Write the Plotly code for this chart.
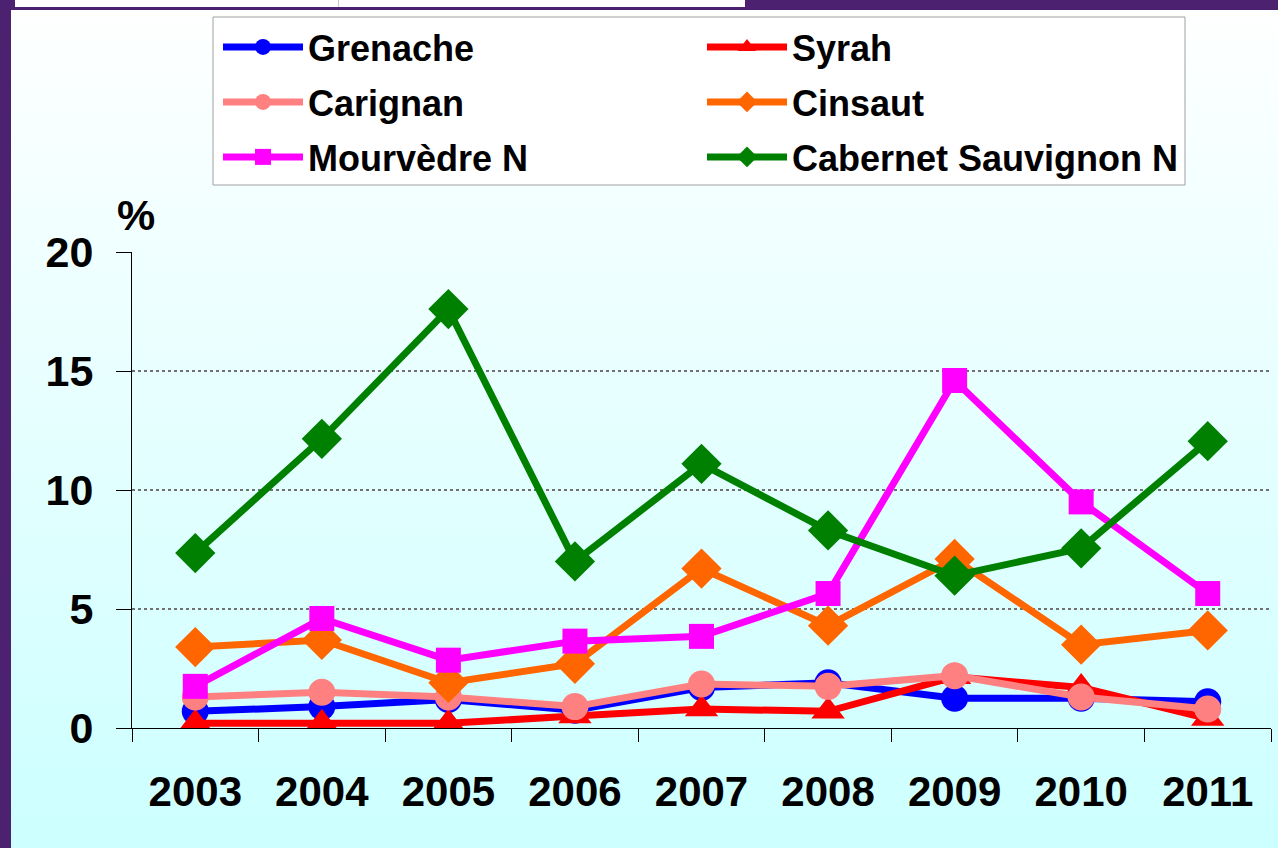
import base64
import plotly.graph_objects as go

years = ["2003", "2004", "2005", "2006", "2007", "2008", "2009", "2010", "2011"]

grenache = [0.7, 0.9, 1.2, 0.75, 1.7, 1.9, 1.25, 1.25, 1.1]
syrah = [0.2, 0.2, 0.2, 0.5, 0.8, 0.7, 2.15, 1.7, 0.4]
carignan = [1.3, 1.5, 1.3, 0.9, 1.85, 1.75, 2.2, 1.3, 0.8]
cinsaut = [3.4, 3.7, 1.9, 2.7, 6.7, 4.3, 7.1, 3.5, 4.1]
mourvedre = [1.75, 4.6, 2.85, 3.65, 3.85, 5.65, 14.6, 9.5, 5.65]
cabernet = [7.35, 12.15, 17.6, 7.0, 11.1, 8.3, 6.4, 7.55, 12.05]

# name, values, colour, marker, marker size, legend row
series = [
    ("Grenache", grenache, "#0000FF", "circle", 27, "legend"),
    ("Syrah", syrah, "#FF0000", "triangle-up", 29, "legend"),
    ("Carignan", carignan, "#FF8080", "circle", 27, "legend2"),
    ("Cinsaut", cinsaut, "#FF6600", "diamond", 31, "legend2"),
    ("Mourvèdre N", mourvedre, "#FF00FF", "square", 25, "legend3"),
    ("Cabernet Sauvignon N", cabernet, "#008000", "diamond", 31, "legend3"),
]

W, H = 1278, 848
L, R, T, B = 132, 7, 252, 120
pw, ph = W - L - R, H - T - B


def px_x(p):
    return (p - L) / pw


def px_y(p):
    return (H - B - p) / ph


# slide background: gradient + purple frame
svg = f"""<svg xmlns='http://www.w3.org/2000/svg' width='{W}' height='{H}' preserveAspectRatio='none'>
<defs><linearGradient id='g' x1='0' y1='0' x2='0' y2='1'>
<stop offset='0' stop-color='#FFFFFF'/><stop offset='1' stop-color='#CCFFFF'/></linearGradient></defs>
<rect width='{W}' height='{H}' fill='url(#g)'/>
<rect x='0' y='0' width='{W}' height='10' fill='#4B2170'/>
<rect x='0' y='0' width='11' height='{H}' fill='#4B2170'/>
<rect x='15' y='0' width='730' height='7' fill='#FFFFFF'/>
<rect x='338' y='0' width='1' height='7' fill='#C8C8C8'/>
</svg>"""
bg_src = "data:image/svg+xml;base64," + base64.b64encode(svg.encode()).decode()

font = dict(family="Liberation Sans, Arial, sans-serif", color="black", weight="bold")

fig = go.Figure()
for name, vals, color, symbol, size, leg in series:
    fig.add_trace(go.Scatter(
        x=years, y=vals, name=name, mode="lines+markers",
        line=dict(color=color, width=7),
        marker=dict(color=color, symbol=symbol, size=size),
        legend=leg,
    ))

fig.add_layout_image(
    source=bg_src, xref="paper", yref="paper",
    x=px_x(0), y=px_y(0), sizex=W / pw, sizey=H / ph,
    xanchor="left", yanchor="top", sizing="stretch", layer="below",
)

# legend frame
fig.add_shape(
    type="rect", xref="paper", yref="paper",
    x0=px_x(213), x1=px_x(1185), y0=px_y(185), y1=px_y(17),
    fillcolor="white", line=dict(color="#A0A0A0", width=1), layer="below",
)

fig.add_annotation(
    xref="paper", yref="paper", x=px_x(136), y=px_y(215),
    xanchor="center", yanchor="middle",
    text="%", showarrow=False, font=dict(font, size=43),
)

leg_style = dict(
    orientation="h", xanchor="left", yanchor="middle", x=px_x(218),
    entrywidth=389, itemwidth=80, bgcolor="rgba(0,0,0,0)", borderwidth=0,
    font=dict(font, size=36),
)

fig.update_layout(
    width=W, height=H,
    margin=dict(l=L, r=R, t=T, b=B),
    paper_bgcolor="#CCFFFF", plot_bgcolor="rgba(0,0,0,0)",
    font=font,
    legend=dict(leg_style, y=px_y(47)),
    legend2=dict(leg_style, y=px_y(102)),
    legend3=dict(leg_style, y=px_y(157)),
    xaxis=dict(
        type="category", range=[-0.5, 8.5],
        showline=True, linecolor="black", linewidth=1,
        ticks="outside", tickson="boundaries", ticklen=13, tickcolor="black",
        showgrid=False, tickfont=dict(font, size=42), ticklabelstandoff=27,
    ),
    yaxis=dict(
        range=[0, 20], tickvals=[0, 5, 10, 15, 20],
        showline=True, linecolor="black", linewidth=1,
        ticks="outside", ticklen=15, tickcolor="black",
        gridcolor="#707070", griddash="dot", gridwidth=1.5,
        zeroline=False, tickfont=dict(font, size=43), ticklabelstandoff=14,
    ),
)

fig.write_html(
    "out.html",
    config={"displayModeBar": False},
    post_script="document.body.style.margin='0px';",
)
